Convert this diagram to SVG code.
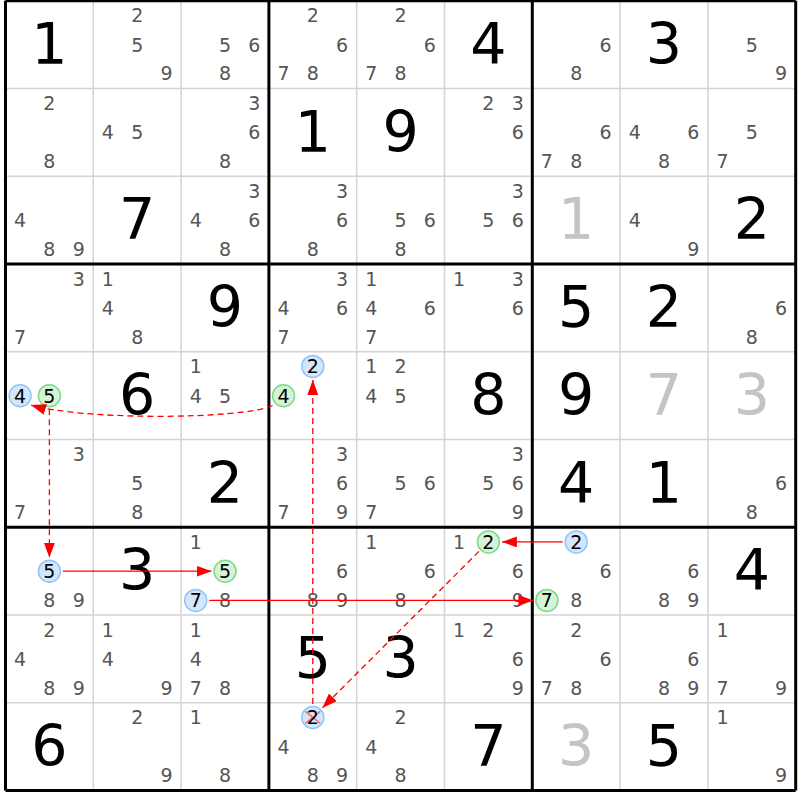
<svg xmlns="http://www.w3.org/2000/svg" width="800" height="800" viewBox="0 0 800 800">
<style>
text{font-family:"DejaVu Sans",Verdana,sans-serif;text-anchor:middle}
.c{font-size:19px;fill:#555}
.h{font-size:19px;fill:#000}
.g{font-size:57px;fill:#000}
.s{font-size:57px;fill:#c4c4c4}
.thin{stroke:#d4d4d4;stroke-width:1.5}
.thick{stroke:#000;stroke-width:3}
.cb{fill:#d3e6fc;stroke:#92c5f5;stroke-width:1.5}
.cg{fill:#d5f3d5;stroke:#7fd88b;stroke-width:1.5}
.ln{fill:none;stroke:#ff0000;stroke-width:1.3;marker-end:url(#ah)}
.d{stroke-dasharray:6,4}
</style>
<defs>
<marker id="ah" markerUnits="userSpaceOnUse" markerWidth="16" markerHeight="12" refX="15" refY="5.5" orient="auto"><path d="M0,0 L15,5.5 L0,11 z" fill="#ff0000"/></marker>
</defs>
<rect width="800" height="800" fill="#fff"/>
<g id="grid">
<path class="thin" d="M93.3,0.8V790.55M181.1,0.8V790.55M356.7,0.8V790.55M444.5,0.8V790.55M620.1,0.8V790.55M707.9,0.8V790.55M5.5,88.55H795.7M5.5,176.3H795.7M5.5,351.8H795.7M5.5,439.55H795.7M5.5,615.05H795.7M5.5,702.8H795.7"/>
<path class="thick" d="M5.5,0.8V790.55M268.9,0.8V790.55M532.3,0.8V790.55M795.7,0.8V790.55M5.5,0.8H795.7M5.5,264.05H795.7M5.5,527.3H795.7M5.5,790.55H795.7"/>
</g>
<g id="cells">
<g id="r1c1" transform="translate(5.5,0.8)"><text class="g" x="43.9" y="63">1</text></g>
<g id="r1c2" transform="translate(93.3,0.8)"><text class="c" x="43.9" y="21.5">2</text><text class="c" x="43.9" y="50.8">5</text><text class="c" x="73.2" y="79.5">9</text></g>
<g id="r1c3" transform="translate(181.1,0.8)"><text class="c" x="43.9" y="50.8">5</text><text class="c" x="73.2" y="50.8">6</text><text class="c" x="43.9" y="79.5">8</text></g>
<g id="r1c4" transform="translate(268.9,0.8)"><text class="c" x="43.9" y="21.5">2</text><text class="c" x="73.2" y="50.8">6</text><text class="c" x="14.6" y="79.5">7</text><text class="c" x="43.9" y="79.5">8</text></g>
<g id="r1c5" transform="translate(356.7,0.8)"><text class="c" x="43.9" y="21.5">2</text><text class="c" x="73.2" y="50.8">6</text><text class="c" x="14.6" y="79.5">7</text><text class="c" x="43.9" y="79.5">8</text></g>
<g id="r1c6" transform="translate(444.5,0.8)"><text class="g" x="43.9" y="63">4</text></g>
<g id="r1c7" transform="translate(532.3,0.8)"><text class="c" x="73.2" y="50.8">6</text><text class="c" x="43.9" y="79.5">8</text></g>
<g id="r1c8" transform="translate(620.1,0.8)"><text class="g" x="43.9" y="63">3</text></g>
<g id="r1c9" transform="translate(707.9,0.8)"><text class="c" x="43.9" y="50.8">5</text><text class="c" x="73.2" y="79.5">9</text></g>

<g id="r2c1" transform="translate(5.5,88.55)"><text class="c" x="43.9" y="21.5">2</text><text class="c" x="43.9" y="79.5">8</text></g>
<g id="r2c2" transform="translate(93.3,88.55)"><text class="c" x="14.6" y="50.8">4</text><text class="c" x="43.9" y="50.8">5</text></g>
<g id="r2c3" transform="translate(181.1,88.55)"><text class="c" x="73.2" y="21.5">3</text><text class="c" x="73.2" y="50.8">6</text><text class="c" x="43.9" y="79.5">8</text></g>
<g id="r2c4" transform="translate(268.9,88.55)"><text class="g" x="43.9" y="63">1</text></g>
<g id="r2c5" transform="translate(356.7,88.55)"><text class="g" x="43.9" y="63">9</text></g>
<g id="r2c6" transform="translate(444.5,88.55)"><text class="c" x="43.9" y="21.5">2</text><text class="c" x="73.2" y="21.5">3</text><text class="c" x="73.2" y="50.8">6</text></g>
<g id="r2c7" transform="translate(532.3,88.55)"><text class="c" x="73.2" y="50.8">6</text><text class="c" x="14.6" y="79.5">7</text><text class="c" x="43.9" y="79.5">8</text></g>
<g id="r2c8" transform="translate(620.1,88.55)"><text class="c" x="14.6" y="50.8">4</text><text class="c" x="73.2" y="50.8">6</text><text class="c" x="43.9" y="79.5">8</text></g>
<g id="r2c9" transform="translate(707.9,88.55)"><text class="c" x="43.9" y="50.8">5</text><text class="c" x="14.6" y="79.5">7</text></g>

<g id="r3c1" transform="translate(5.5,176.3)"><text class="c" x="14.6" y="50.8">4</text><text class="c" x="43.9" y="79.5">8</text><text class="c" x="73.2" y="79.5">9</text></g>
<g id="r3c2" transform="translate(93.3,176.3)"><text class="g" x="43.9" y="63">7</text></g>
<g id="r3c3" transform="translate(181.1,176.3)"><text class="c" x="73.2" y="21.5">3</text><text class="c" x="14.6" y="50.8">4</text><text class="c" x="73.2" y="50.8">6</text><text class="c" x="43.9" y="79.5">8</text></g>
<g id="r3c4" transform="translate(268.9,176.3)"><text class="c" x="73.2" y="21.5">3</text><text class="c" x="73.2" y="50.8">6</text><text class="c" x="43.9" y="79.5">8</text></g>
<g id="r3c5" transform="translate(356.7,176.3)"><text class="c" x="43.9" y="50.8">5</text><text class="c" x="73.2" y="50.8">6</text><text class="c" x="43.9" y="79.5">8</text></g>
<g id="r3c6" transform="translate(444.5,176.3)"><text class="c" x="73.2" y="21.5">3</text><text class="c" x="43.9" y="50.8">5</text><text class="c" x="73.2" y="50.8">6</text></g>
<g id="r3c7" transform="translate(532.3,176.3)"><text class="s" x="43.9" y="63">1</text></g>
<g id="r3c8" transform="translate(620.1,176.3)"><text class="c" x="14.6" y="50.8">4</text><text class="c" x="73.2" y="79.5">9</text></g>
<g id="r3c9" transform="translate(707.9,176.3)"><text class="g" x="43.9" y="63">2</text></g>

<g id="r4c1" transform="translate(5.5,264.05)"><text class="c" x="73.2" y="21.5">3</text><text class="c" x="14.6" y="79.5">7</text></g>
<g id="r4c2" transform="translate(93.3,264.05)"><text class="c" x="14.6" y="21.5">1</text><text class="c" x="14.6" y="50.8">4</text><text class="c" x="43.9" y="79.5">8</text></g>
<g id="r4c3" transform="translate(181.1,264.05)"><text class="g" x="43.9" y="63">9</text></g>
<g id="r4c4" transform="translate(268.9,264.05)"><text class="c" x="73.2" y="21.5">3</text><text class="c" x="14.6" y="50.8">4</text><text class="c" x="73.2" y="50.8">6</text><text class="c" x="14.6" y="79.5">7</text></g>
<g id="r4c5" transform="translate(356.7,264.05)"><text class="c" x="14.6" y="21.5">1</text><text class="c" x="14.6" y="50.8">4</text><text class="c" x="73.2" y="50.8">6</text><text class="c" x="14.6" y="79.5">7</text></g>
<g id="r4c6" transform="translate(444.5,264.05)"><text class="c" x="14.6" y="21.5">1</text><text class="c" x="73.2" y="21.5">3</text><text class="c" x="73.2" y="50.8">6</text></g>
<g id="r4c7" transform="translate(532.3,264.05)"><text class="g" x="43.9" y="63">5</text></g>
<g id="r4c8" transform="translate(620.1,264.05)"><text class="g" x="43.9" y="63">2</text></g>
<g id="r4c9" transform="translate(707.9,264.05)"><text class="c" x="73.2" y="50.8">6</text><text class="c" x="43.9" y="79.5">8</text></g>

<g id="r5c1" transform="translate(5.5,351.8)"><circle class="cb" cx="14.6" cy="43.9" r="11"/><text class="h" x="14.6" y="50.8">4</text><circle class="cg" cx="43.9" cy="43.9" r="11"/><text class="h" x="43.9" y="50.8">5</text></g>
<g id="r5c2" transform="translate(93.3,351.8)"><text class="g" x="43.9" y="63">6</text></g>
<g id="r5c3" transform="translate(181.1,351.8)"><text class="c" x="14.6" y="21.5">1</text><text class="c" x="14.6" y="50.8">4</text><text class="c" x="43.9" y="50.8">5</text></g>
<g id="r5c4" transform="translate(268.9,351.8)"><circle class="cb" cx="43.9" cy="14.6" r="11"/><text class="h" x="43.9" y="21.5">2</text><circle class="cg" cx="14.6" cy="43.9" r="11"/><text class="h" x="14.6" y="50.8">4</text></g>
<g id="r5c5" transform="translate(356.7,351.8)"><text class="c" x="14.6" y="21.5">1</text><text class="c" x="43.9" y="21.5">2</text><text class="c" x="14.6" y="50.8">4</text><text class="c" x="43.9" y="50.8">5</text></g>
<g id="r5c6" transform="translate(444.5,351.8)"><text class="g" x="43.9" y="63">8</text></g>
<g id="r5c7" transform="translate(532.3,351.8)"><text class="g" x="43.9" y="63">9</text></g>
<g id="r5c8" transform="translate(620.1,351.8)"><text class="s" x="43.9" y="63">7</text></g>
<g id="r5c9" transform="translate(707.9,351.8)"><text class="s" x="43.9" y="63">3</text></g>

<g id="r6c1" transform="translate(5.5,439.55)"><text class="c" x="73.2" y="21.5">3</text><text class="c" x="14.6" y="79.5">7</text></g>
<g id="r6c2" transform="translate(93.3,439.55)"><text class="c" x="43.9" y="50.8">5</text><text class="c" x="43.9" y="79.5">8</text></g>
<g id="r6c3" transform="translate(181.1,439.55)"><text class="g" x="43.9" y="63">2</text></g>
<g id="r6c4" transform="translate(268.9,439.55)"><text class="c" x="73.2" y="21.5">3</text><text class="c" x="73.2" y="50.8">6</text><text class="c" x="14.6" y="79.5">7</text><text class="c" x="73.2" y="79.5">9</text></g>
<g id="r6c5" transform="translate(356.7,439.55)"><text class="c" x="43.9" y="50.8">5</text><text class="c" x="73.2" y="50.8">6</text><text class="c" x="14.6" y="79.5">7</text></g>
<g id="r6c6" transform="translate(444.5,439.55)"><text class="c" x="73.2" y="21.5">3</text><text class="c" x="43.9" y="50.8">5</text><text class="c" x="73.2" y="50.8">6</text><text class="c" x="73.2" y="79.5">9</text></g>
<g id="r6c7" transform="translate(532.3,439.55)"><text class="g" x="43.9" y="63">4</text></g>
<g id="r6c8" transform="translate(620.1,439.55)"><text class="g" x="43.9" y="63">1</text></g>
<g id="r6c9" transform="translate(707.9,439.55)"><text class="c" x="73.2" y="50.8">6</text><text class="c" x="43.9" y="79.5">8</text></g>

<g id="r7c1" transform="translate(5.5,527.3)"><circle class="cb" cx="43.9" cy="43.9" r="11"/><text class="h" x="43.9" y="50.8">5</text><text class="c" x="43.9" y="79.5">8</text><text class="c" x="73.2" y="79.5">9</text></g>
<g id="r7c2" transform="translate(93.3,527.3)"><text class="g" x="43.9" y="63">3</text></g>
<g id="r7c3" transform="translate(181.1,527.3)"><text class="c" x="14.6" y="21.5">1</text><circle class="cg" cx="43.9" cy="43.9" r="11"/><text class="h" x="43.9" y="50.8">5</text><circle class="cb" cx="14.6" cy="73.1" r="11"/><text class="h" x="14.6" y="80">7</text><text class="c" x="43.9" y="79.5">8</text></g>
<g id="r7c4" transform="translate(268.9,527.3)"><text class="c" x="73.2" y="50.8">6</text><text class="c" x="43.9" y="79.5">8</text><text class="c" x="73.2" y="79.5">9</text></g>
<g id="r7c5" transform="translate(356.7,527.3)"><text class="c" x="14.6" y="21.5">1</text><text class="c" x="73.2" y="50.8">6</text><text class="c" x="43.9" y="79.5">8</text></g>
<g id="r7c6" transform="translate(444.5,527.3)"><text class="c" x="14.6" y="21.5">1</text><circle class="cg" cx="43.9" cy="14.6" r="11"/><text class="h" x="43.9" y="21.5">2</text><text class="c" x="73.2" y="50.8">6</text><text class="c" x="73.2" y="79.5">9</text></g>
<g id="r7c7" transform="translate(532.3,527.3)"><circle class="cb" cx="43.9" cy="14.6" r="11"/><text class="h" x="43.9" y="21.5">2</text><text class="c" x="73.2" y="50.8">6</text><circle class="cg" cx="14.6" cy="73.1" r="11"/><text class="h" x="14.6" y="80">7</text><text class="c" x="43.9" y="79.5">8</text></g>
<g id="r7c8" transform="translate(620.1,527.3)"><text class="c" x="73.2" y="50.8">6</text><text class="c" x="43.9" y="79.5">8</text><text class="c" x="73.2" y="79.5">9</text></g>
<g id="r7c9" transform="translate(707.9,527.3)"><text class="g" x="43.9" y="63">4</text></g>

<g id="r8c1" transform="translate(5.5,615.05)"><text class="c" x="43.9" y="21.5">2</text><text class="c" x="14.6" y="50.8">4</text><text class="c" x="43.9" y="79.5">8</text><text class="c" x="73.2" y="79.5">9</text></g>
<g id="r8c2" transform="translate(93.3,615.05)"><text class="c" x="14.6" y="21.5">1</text><text class="c" x="14.6" y="50.8">4</text><text class="c" x="73.2" y="79.5">9</text></g>
<g id="r8c3" transform="translate(181.1,615.05)"><text class="c" x="14.6" y="21.5">1</text><text class="c" x="14.6" y="50.8">4</text><text class="c" x="14.6" y="79.5">7</text><text class="c" x="43.9" y="79.5">8</text></g>
<g id="r8c4" transform="translate(268.9,615.05)"><text class="g" x="43.9" y="63">5</text></g>
<g id="r8c5" transform="translate(356.7,615.05)"><text class="g" x="43.9" y="63">3</text></g>
<g id="r8c6" transform="translate(444.5,615.05)"><text class="c" x="14.6" y="21.5">1</text><text class="c" x="43.9" y="21.5">2</text><text class="c" x="73.2" y="50.8">6</text><text class="c" x="73.2" y="79.5">9</text></g>
<g id="r8c7" transform="translate(532.3,615.05)"><text class="c" x="43.9" y="21.5">2</text><text class="c" x="73.2" y="50.8">6</text><text class="c" x="14.6" y="79.5">7</text><text class="c" x="43.9" y="79.5">8</text></g>
<g id="r8c8" transform="translate(620.1,615.05)"><text class="c" x="73.2" y="50.8">6</text><text class="c" x="43.9" y="79.5">8</text><text class="c" x="73.2" y="79.5">9</text></g>
<g id="r8c9" transform="translate(707.9,615.05)"><text class="c" x="14.6" y="21.5">1</text><text class="c" x="14.6" y="79.5">7</text><text class="c" x="73.2" y="79.5">9</text></g>

<g id="r9c1" transform="translate(5.5,702.8)"><text class="g" x="43.9" y="63">6</text></g>
<g id="r9c2" transform="translate(93.3,702.8)"><text class="c" x="43.9" y="21.5">2</text><text class="c" x="73.2" y="79.5">9</text></g>
<g id="r9c3" transform="translate(181.1,702.8)"><text class="c" x="14.6" y="21.5">1</text><text class="c" x="43.9" y="79.5">8</text></g>
<g id="r9c4" transform="translate(268.9,702.8)"><circle class="cb" cx="43.9" cy="14.6" r="11"/><path d="M36.5,8.6L51.3,20.6M51.3,8.6L36.5,20.6" stroke="#f07070" stroke-width="1.5"/><text class="h" x="43.9" y="21.5">2</text><text class="c" x="14.6" y="50.8">4</text><text class="c" x="43.9" y="79.5">8</text><text class="c" x="73.2" y="79.5">9</text></g>
<g id="r9c5" transform="translate(356.7,702.8)"><text class="c" x="43.9" y="21.5">2</text><text class="c" x="14.6" y="50.8">4</text><text class="c" x="43.9" y="79.5">8</text></g>
<g id="r9c6" transform="translate(444.5,702.8)"><text class="g" x="43.9" y="63">7</text></g>
<g id="r9c7" transform="translate(532.3,702.8)"><text class="s" x="43.9" y="63">3</text></g>
<g id="r9c8" transform="translate(620.1,702.8)"><text class="g" x="43.9" y="63">5</text></g>
<g id="r9c9" transform="translate(707.9,702.8)"><text class="c" x="14.6" y="21.5">1</text><text class="c" x="73.2" y="79.5">9</text></g>
</g>
<g id="connectors">
<path class="ln d" d="M272.5,405.5 C240,420 80,420 31,405"/>
<path class="ln d" d="M49.4,409.2 V557.7"/>
<path class="ln" d="M62.9,571.2 H211.5"/>
<path class="ln" d="M209.2,600.4 H533.4"/>
<path class="ln" d="M562.7,541.9 H501.9"/>
<path class="ln d" d="M478.9,551.4 L322.3,707.9"/>
<path class="ln d" d="M312.8,703.9 V379.9"/>
</g>
</svg>
